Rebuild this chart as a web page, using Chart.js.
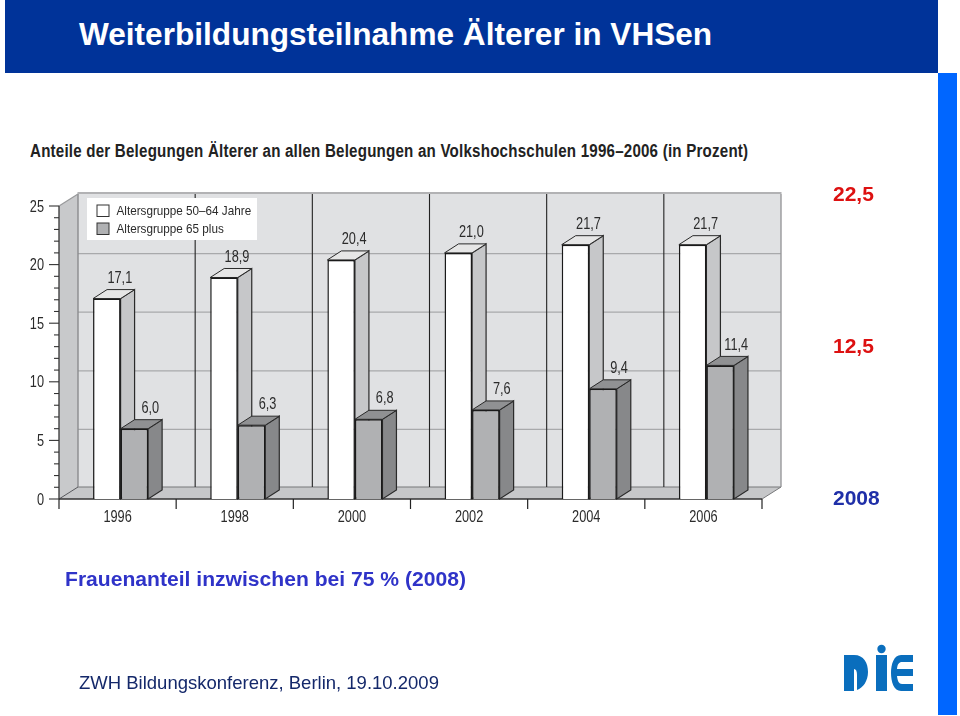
<!DOCTYPE html>
<html lang="de">
<head>
<meta charset="utf-8">
<title>Weiterbildungsteilnahme Älterer in VHSen</title>
<script src="https://cdn.jsdelivr.net/npm/chart.js@4/dist/chart.umd.min.js"></script>
<style>
html,body{margin:0;padding:0;background:#fff;width:960px;height:716px;overflow:hidden;font-family:"Liberation Sans",Arial,sans-serif}
#banner{position:absolute;left:5px;top:0;width:933px;height:73px;background:#003399}
#stripe{position:absolute;left:938px;top:73px;width:19px;height:642px;background:#0066ff}
.t{position:absolute;white-space:nowrap;line-height:1}
#head{left:79px;top:19px;font-size:31.6px;font-weight:bold;color:#fff}
#sub{left:30px;top:142px;font-size:18px;font-weight:bold;color:#222;letter-spacing:.25px;transform:scaleX(.84);transform-origin:left center}
.red{left:833px;font-size:21px;font-weight:bold;color:#dd1111}
#frau{left:65px;top:568px;font-size:21.1px;font-weight:bold;color:#2f33c8}
#foot{left:79px;top:674px;font-size:18.5px;color:#14286a}
#wrap{position:absolute;left:0;top:0;width:960px;height:716px}
#logo{position:absolute;left:840px;top:640px}
</style>
</head>
<body>
<div id="banner"></div>
<div id="stripe"></div>
<div class="t" id="head">Weiterbildungsteilnahme Älterer in VHSen</div>
<div class="t" id="sub">Anteile der Belegungen Älterer an allen Belegungen an Volkshochschulen 1996–2006 (in Prozent)</div>
<div id="wrap"><canvas id="c" width="960" height="716"></canvas></div>
<div class="t red" style="top:183px">22,5</div>
<div class="t red" style="top:335px">12,5</div>
<div class="t red" style="top:487px;color:#1f2fa8">2008</div>
<div class="t" id="frau">Frauenanteil inzwischen bei 75 % (2008)</div>
<div class="t" id="foot">ZWH Bildungskonferenz, Berlin, 19.10.2009</div>
<svg id="logo" width="80" height="56" viewBox="0 0 80 56" role="img" aria-label="DIE">
  <g fill="#0a6ebd">
    <path d="M4 15H14C24 15 28 23 28 32C28 41 23 48 17 50V35C17 31 16 29 14 29V51H4Z"/>
    <rect x="36" y="15" width="11" height="36"/>
    <circle cx="41.5" cy="9" r="4.2"/>
    <path d="M73 15V22H62C59 22 57.5 24 57 29H73V36H57C57.5 41 59 44 62 44H73V51H61C54 51 51 42 51 33C51 24 54 15 61 15Z"/>
  </g>
</svg>
<script>
const categories = ['1996','1998','2000','2002','2004','2006'];
const group5064 = [17.1,18.9,20.4,21.0,21.7,21.7];
const group65plus = [6.0,6.3,6.8,7.6,9.4,11.4];
const seriesNames = ['Altersgruppe 50–64 Jahre','Altersgruppe 65 plus'];
const FONT = '"Liberation Sans",Arial,sans-serif';

const frontColors = ['#ffffff','#b0b1b3'];
const sideColors  = ['#c6c7c9','#87888a'];
const topColors   = ['#e6e6e6','#909193'];
const INK = '#1a1a1a';

function poly(ctx, pts, fill, stroke, lw){
  ctx.beginPath();
  pts.forEach((p,i)=> i?ctx.lineTo(p[0],p[1]):ctx.moveTo(p[0],p[1]));
  ctx.closePath();
  if(fill){ctx.fillStyle=fill;ctx.fill();}
  if(stroke){ctx.strokeStyle=stroke;ctx.lineWidth=lw||1;ctx.stroke();}
}
function line(ctx,x1,y1,x2,y2,c,w){
  ctx.beginPath();ctx.moveTo(x1,y1);ctx.lineTo(x2,y2);ctx.strokeStyle=c;ctx.lineWidth=w;ctx.stroke();
}
// the reference's labels are set in a condensed face: squeeze the installed sans horizontally
function narrowText(ctx,text,x,y,sx){
  ctx.save();
  ctx.translate(x,y);
  ctx.scale(sx,1);
  ctx.fillText(text,0,0);
  ctx.restore();
}

const AXIS_SHIFT = 3, WALL_DX = 19, WALL_DY = 12, GRID_DY = 11, BAR_DX = 14, BAR_DY = 9;

const scene3d = {
  id:'scene3d',
  beforeDatasetsDraw(chart){
    const {ctx,scales:{x,y}} = chart;
    const y0 = y.getPixelForValue(0), yTop = y.getPixelForValue(25);
    const half = (x.getPixelForValue(1)-x.getPixelForValue(0))/2;
    const xL = x.getPixelForValue(0)-half-AXIS_SHIFT;
    const xR = x.getPixelForValue(categories.length-1)+half-AXIS_SHIFT;
    ctx.save();
    poly(ctx,[[xL+WALL_DX,yTop-WALL_DY],[xR+WALL_DX,yTop-WALL_DY],[xR+WALL_DX,y0-WALL_DY],[xL+WALL_DX,y0-WALL_DY]],'#e0e1e3');
    poly(ctx,[[xL,y0],[xL,yTop],[xL+WALL_DX,yTop-WALL_DY],[xL+WALL_DX,y0-WALL_DY]],'#c8c9cb');
    poly(ctx,[[xL,y0],[xL+WALL_DX,y0-WALL_DY],[xR+WALL_DX,y0-WALL_DY],[xR,y0]],'#c6c7c9');
    for(let v=5;v<=20;v+=5){
      const py=y.getPixelForValue(v)-GRID_DY;
      line(ctx,xL+WALL_DX,py,xR+WALL_DX,py,'#a8a9ab',1.2);
    }
    line(ctx,xL+WALL_DX,y0-WALL_DY,xR+WALL_DX,y0-WALL_DY,'#77787a',1.2);
    line(ctx,xL+WALL_DX-.5,yTop-WALL_DY-1,xR+WALL_DX+.5,yTop-WALL_DY-1,'#98999b',1.6);
    line(ctx,xR+WALL_DX,yTop-WALL_DY,xR+WALL_DX,y0-WALL_DY,'#98999b',1.4);
    line(ctx,xL+WALL_DX,yTop-WALL_DY,xL+WALL_DX,y0-WALL_DY,'#8a8b8d',1.4);
    line(ctx,xL,yTop,xL+WALL_DX,yTop-WALL_DY,'#98999b',1.2);
    line(ctx,xL,y0,xL+WALL_DX,y0-WALL_DY,'#55565a',1);
    line(ctx,xR,y0,xR+WALL_DX,y0-WALL_DY,'#77787a',1);
    for(let i=1;i<categories.length;i++){
      const px=xL+(xR-xL)*i/categories.length+WALL_DX;
      line(ctx,px,yTop-WALL_DY,px,y0-WALL_DY,'#222',1.1);
    }
    line(ctx,xL,y0,xR,y0,'#333',1.3);
    line(ctx,xL,yTop,xL,y0,'#333',1.3);
    for(let i=0;i<=categories.length;i++){
      const px=xL+(xR-xL)*i/categories.length;
      line(ctx,px,y0,px,y0+10,'#222',1.2);
    }
    y.ticks.forEach(t=>{
      const py=y.getPixelForValue(t.value);
      line(ctx,xL-(t.value%5===0?10:5),py,xL,py,'#333',1.1);
    });
    chart.data.datasets.forEach((ds,di)=>{
      chart.getDatasetMeta(di).data.forEach(el=>{
        const p=el.getProps(['x','y','base','width'],true);
        const l=p.x-p.width/2, r=p.x+p.width/2;
        poly(ctx,[[r,p.y],[r+BAR_DX,p.y-BAR_DY],[r+BAR_DX,p.base-BAR_DY],[r,p.base]],sideColors[di],'#2a2a2a',1.2);
        poly(ctx,[[l,p.y],[l+BAR_DX,p.y-BAR_DY],[r+BAR_DX,p.y-BAR_DY],[r,p.y]],topColors[di],'#2a2a2a',1);
      });
    });
    ctx.restore();
  },
  afterDatasetsDraw(chart){
    const {ctx,scales:{x,y}} = chart;
    ctx.save();
    ctx.font='17px '+FONT;
    ctx.fillStyle='#2b2b2b';
    ctx.textBaseline='middle';
    ctx.textAlign='center';
    categories.forEach((c,i)=>narrowText(ctx,x.getLabelForValue(i),x.getPixelForValue(i)-AXIS_SHIFT,517,.75));
    ctx.textAlign='right';
    y.ticks.forEach(t=>{
      if(t.value%5===0) narrowText(ctx,String(t.value),44,y.getPixelForValue(t.value)+1,.75);
    });
    ctx.textAlign='center';
    chart.data.datasets.forEach((ds,di)=>{
      chart.getDatasetMeta(di).data.forEach((el,i)=>{
        const p=el.getProps(['x','y'],true);
        narrowText(ctx,ds.data[i].toFixed(1).replace('.',','),p.x+(di?16:13),p.y-20.5,.75);
      });
    });
    const lx=87, ly=198;
    ctx.fillStyle='#ffffff';
    ctx.fillRect(lx,ly,170,42);
    ctx.font='13px '+FONT;
    ctx.textAlign='left';
    chart.data.datasets.forEach((ds,di)=>{
      const top=ly+7+di*18;
      ctx.fillStyle=frontColors[di];
      ctx.fillRect(lx+10,top,12,11.5);
      ctx.strokeStyle='#333';ctx.lineWidth=1;
      ctx.strokeRect(lx+10,top,12,11.5);
      ctx.fillStyle='#2b2b2b';
      narrowText(ctx,ds.label,lx+29.5,top+6,.9);
    });
    ctx.restore();
  }
};

new Chart(document.getElementById('c'),{
  type:'bar',
  data:{
    labels:categories,
    datasets:[
      {label:seriesNames[0],data:group5064,backgroundColor:frontColors[0],borderColor:INK,borderWidth:1.5},
      {label:seriesNames[1],data:group65plus,backgroundColor:frontColors[1],borderColor:INK,borderWidth:1.5}
    ]
  },
  options:{
    responsive:false,
    animation:false,
    layout:{padding:{left:0,right:195,top:206,bottom:177}},
    datasets:{bar:{categoryPercentage:0.47,barPercentage:1}},
    plugins:{legend:{display:false},title:{display:false},tooltip:{enabled:false}},
    scales:{
      x:{
        grid:{display:false},border:{display:false},
        afterFit(s){s.height=40;},
        ticks:{display:false}
      },
      y:{
        min:0,max:25,
        grid:{display:false},border:{display:false},
        afterFit(s){s.width=62;},
        ticks:{display:false,stepSize:1,autoSkip:false}
      }
    }
  },
  plugins:[scene3d]
});
</script>
</body>
</html>
